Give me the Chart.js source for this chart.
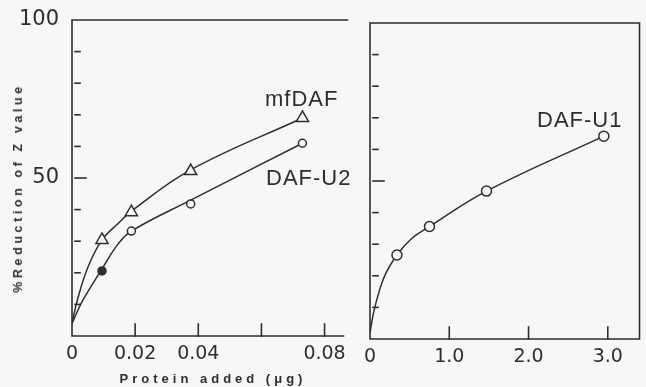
<!DOCTYPE html>
<html><head><meta charset="utf-8">
<script src="https://cdn.jsdelivr.net/npm/chart.js@4.4.1/dist/chart.umd.min.js"></script>
<style>
html,body{margin:0;padding:0;background:#f7f7f5;}
#wrap{position:relative;width:646px;height:387px;overflow:hidden;background:#f7f7f5;}
.cv{position:absolute;top:0;}
.lbl{position:absolute;font-family:"Liberation Sans",Arial,sans-serif;color:#2e2e2e;white-space:nowrap;font-size:22px;line-height:22px;letter-spacing:1px;}
.ttl{position:absolute;font-family:"Liberation Sans",Arial,sans-serif;color:#2e2e2e;white-space:nowrap;font-weight:bold;}
</style></head><body>
<div id="wrap">
<canvas id="c1" class="cv" width="352" height="387" style="left:0"></canvas>
<canvas id="c2" class="cv" width="294" height="387" style="left:352px"></canvas>
<div class="lbl" style="left:265px;top:88px">mfDAF</div>
<div class="lbl" style="left:266px;top:167px">DAF-U2</div>
<div class="lbl" style="left:537px;top:109px">DAF-U1</div>
<div class="ttl" style="left:213px;top:378px;font-size:13px;letter-spacing:4px;transform:translate(-50%,-50%)">Protein added (μg)</div>
<div class="ttl" style="left:18px;top:188px;font-size:12.5px;letter-spacing:3.6px;transform:translate(-50%,-50%) rotate(-90deg)">%Reduction of Z value</div>
</div>
<script>
// ---- data: measured points (markers) ----
const leftDose = [0.0095, 0.0188, 0.0376, 0.073];
const mfDAF    = [30.4, 39.2, 52.2, 69];
const dafU2    = [20.6, 33.2, 41.8, 61];
const rightDose = [0.34, 0.75, 1.47, 2.95];
const dafU1     = [26.6, 35.6, 46.8, 64.2];
// ---- data: hand-drawn fitted curves ----
const mfDAFCurveX = [0, 0.0017, 0.0051, 0.0095, 0.0145, 0.0188, 0.0376, 0.073];
const mfDAFCurve  = [4, 11.4, 21.9, 30.4, 35.5, 39.5, 52.6, 69];
const dafU2CurveX = [0, 0.0035, 0.0095, 0.0145, 0.0188, 0.0376, 0.073];
const dafU2Curve  = [4, 11.4, 21.2, 29.0, 33.2, 43, 61];
const dafU1CurveX = [0, 0.053, 0.18, 0.34, 0.53, 0.75, 1.47, 2.95];
const dafU1Curve  = [2, 9.2, 19.7, 26.6, 31.9, 35.6, 46.8, 64.2];
// ---- ticks ----
const leftXTicks  = [0, 0.02, 0.04, 0.06, 0.08];
const leftXLabels = ['0', '0.02', '0.04', '', '0.08'];
const rightXTicks  = [0, 1, 2, 3];
const rightXLabels = ['0', '1.0', '2.0', '3.0'];
const yTicks  = [0, 10, 20, 30, 40, 50, 60, 70, 80, 90, 100];
const yLabelsLeft = ['', '', '', '', '', '50', '', '', '', '', '100'];

const INK = '#2e2e2e';
const PAPER = '#f7f7f5';
const FONT = {family: 'DejaVu Sans', size: 19};
const YFONT = {family: 'DejaVu Sans', size: 21};

const pts = (xs, ys) => xs.map((x, i) => ({x, y: ys[i]}));

const frame = {
  id: 'frame',
  afterDraw(chart, args, o) {
    const ctx = chart.ctx, a = chart.chartArea;
    const xs = chart.scales.x, ys = chart.scales.y;
    ctx.save();
    ctx.strokeStyle = INK; ctx.lineWidth = 1.6; ctx.lineCap = 'square';
    o.xTicks.forEach(v => {
      const p = xs.getPixelForValue(v);
      ctx.beginPath(); ctx.moveTo(p, a.bottom); ctx.lineTo(p, a.bottom - 12); ctx.stroke();
    });
    o.yTicks.forEach(v => {
      const p = ys.getPixelForValue(v);
      const len = v === 50 ? 14 : 8;
      ctx.beginPath(); ctx.moveTo(a.left + 3, p); ctx.lineTo(a.left + len, p); ctx.stroke();
    });
    ctx.beginPath();
    ctx.moveTo(a.left, a.bottom); ctx.lineTo(a.left, a.top);
    ctx.lineTo(a.right + o.topExtra, a.top);
    if (o.right) { ctx.moveTo(a.right, a.top); ctx.lineTo(a.right, a.bottom); }
    ctx.moveTo(a.left, a.bottom); ctx.lineTo(a.right, a.bottom);
    ctx.stroke();
    ctx.restore();
  }
};

function makeScales(xTicks, xLabels, xMax, yLabels, yWidth, xHeight, xPad) {
  return {
    x: {
      type: 'linear', min: 0, max: xMax,
      afterBuildTicks: s => { s.ticks = xTicks.map(v => ({value: v})); },
      afterFit: s => { s.height = xHeight; },
      grid: {display: false}, border: {display: false},
      ticks: {font: FONT, color: INK, padding: xPad, maxRotation: 0, autoSkip: false,
              callback: (v, i) => xLabels[i]}
    },
    y: {
      type: 'linear', min: 0, max: 100,
      afterBuildTicks: s => { s.ticks = yTicks.map(v => ({value: v})); },
      afterFit: s => { s.width = yWidth; },
      grid: {display: false}, border: {display: false},
      ticks: {font: YFONT, color: INK, padding: 5, autoSkip: false,
              display: !!yLabels, callback: (v, i) => yLabels ? yLabels[i] : ''}
    }
  };
}

const common = {
  responsive: false, animation: false, devicePixelRatio: 1,
  plugins: {legend: {display: false}, tooltip: {enabled: false}},
};

const curve = (label, xs, ys) => ({label, data: pts(xs, ys), showLine: true, borderColor: INK,
  borderWidth: 1.5, tension: 0.4, pointRadius: 0, order: 2});
const marks = (label, xs, ys, style, r, fill) => ({label, data: pts(xs, ys), showLine: false,
  pointStyle: style, pointRadius: r, pointBorderColor: INK, pointBorderWidth: 1.5,
  pointBackgroundColor: fill, order: 1});

new Chart(document.getElementById('c1'), {
  type: 'scatter',
  data: {datasets: [
    curve('mfDAF curve', mfDAFCurveX, mfDAFCurve),
    curve('DAF-U2 curve', dafU2CurveX, dafU2Curve),
    marks('mfDAF', leftDose, mfDAF, 'triangle', 7, PAPER),
    marks('DAF-U2', leftDose, dafU2, 'circle', 4, [INK, PAPER, PAPER, PAPER])
  ]},
  options: Object.assign({}, common, {
    layout: {padding: {top: 20, right: 7, left: 0, bottom: 0}},
    scales: makeScales(leftXTicks, leftXLabels, 0.086, yLabelsLeft, 72, 51, -1),
    plugins: Object.assign({}, common.plugins, {
      frame: {xTicks: [0.02, 0.04, 0.06, 0.08], yTicks: [10,20,30,40,50,60,70,80,90], right: false, topExtra: 4}
    })
  }),
  plugins: [frame]
});

new Chart(document.getElementById('c2'), {
  type: 'scatter',
  data: {datasets: [
    curve('DAF-U1 curve', dafU1CurveX, dafU1Curve),
    marks('DAF-U1', rightDose, dafU1, 'circle', 5, PAPER)
  ]},
  options: Object.assign({}, common, {
    layout: {padding: {top: 23, right: 1, left: 0, bottom: 0}},
    scales: makeScales(rightXTicks, rightXLabels, 3.4, null, 18, 48, -1),
    plugins: Object.assign({}, common.plugins, {
      frame: {xTicks: [1, 2, 3], yTicks: [10,20,30,40,50,60,70,80,90], right: true, topExtra: 0}
    })
  }),
  plugins: [frame]
});
</script>
</body></html>
